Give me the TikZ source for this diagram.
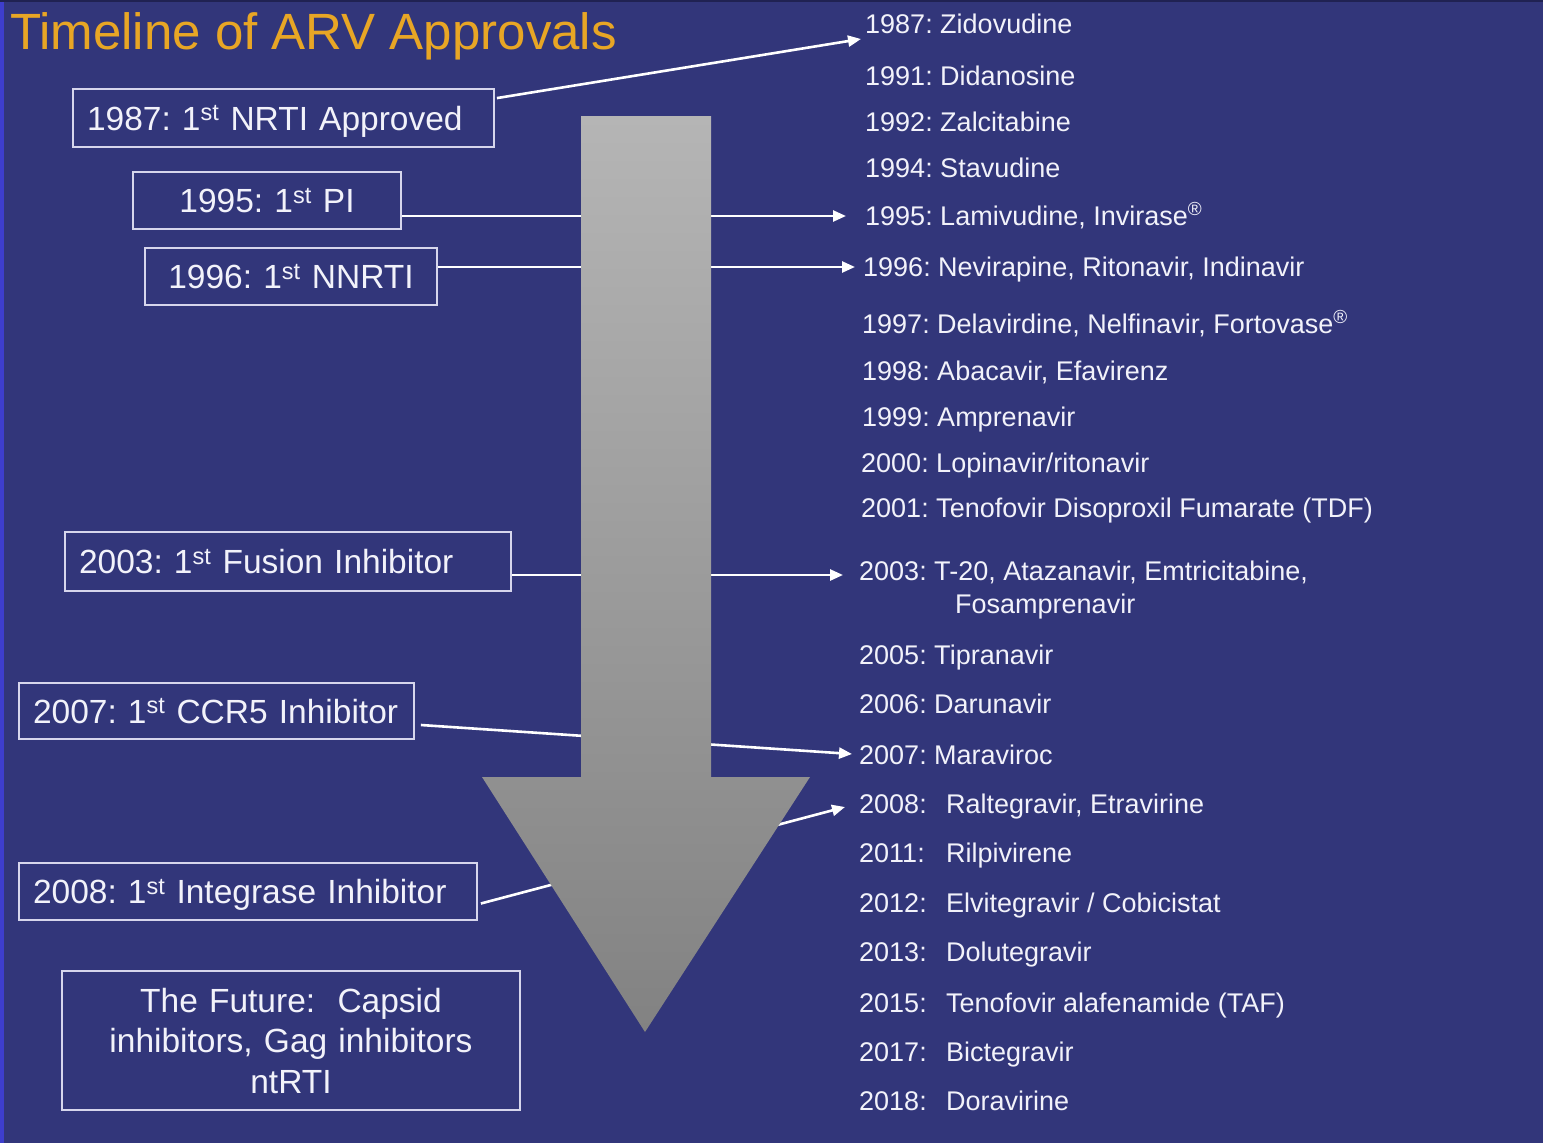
\documentclass[tikz,border=0pt]{standalone}
\usepackage{fontspec}
\setmainfont{Liberation Sans}
\usetikzlibrary{arrows.meta,calc}
\definecolor{bg}{RGB}{50,54,122}
\definecolor{edgeblue}{RGB}{62,62,205}
\definecolor{edgetop}{RGB}{32,34,82}
\definecolor{titlec}{RGB}{232,166,37}
\definecolor{txt}{RGB}{242,242,250}
\definecolor{boxc}{RGB}{214,214,236}
\definecolor{arrtop}{RGB}{181,181,181}
\definecolor{arrbot}{RGB}{130,130,130}
\frenchspacing
\begin{document}
\begin{tikzpicture}[x=1pt,y=-1pt,
  box/.style={draw=boxc, line width=1.8pt, text=txt, font=\fontsize{33.5}{40.5}\selectfont, inner xsep=14pt, inner ysep=0pt},
  oneline/.style={text height=24pt, text depth=0pt},
  item/.style={anchor=base west, text=txt, font=\fontsize{27}{32}\selectfont, inner sep=0pt},
  conn/.style={draw=white, line width=2.6pt, -{Triangle[length=13pt,width=11pt]}}
]
% background
\fill[bg] (0,0) rectangle (1543,1143);
\fill[edgeblue] (0,0) rectangle (4,1143);
\fill[edgetop] (0,0) rectangle (1543,2);
\useasboundingbox (0,0) rectangle (1543,1143);

% title
\node[anchor=base west, text=titlec, font=\fontsize{51}{60}\selectfont, inner sep=0pt] (title) at (10,49) {Timeline of ARV Approvals};

% left boxes
\node[box, oneline, text width=393pt, align=left, minimum height=58pt] (b1) at (283.5,118) {1987: 1\textsuperscript{st} NRTI Approved};
\node[box, oneline, text width=240pt, align=center, minimum height=57pt] (b2) at (267,200.5) {1995: 1\textsuperscript{st} PI};
\node[box, oneline, text width=264pt, align=center, minimum height=57pt] (b3) at (291,276.5) {1996: 1\textsuperscript{st} NNRTI};
\node[box, oneline, text width=418pt, align=left, minimum height=59pt] (b4) at (288,561.5) {2003: 1\textsuperscript{st} Fusion Inhibitor};
\node[box, oneline, text width=367pt, align=left, minimum height=56pt] (b5) at (216.5,711) {2007: 1\textsuperscript{st} CCR5 Inhibitor};
\node[box, oneline, text width=430pt, align=left, minimum height=57pt] (b6) at (248,891.5) {2008: 1\textsuperscript{st} Integrase Inhibitor};
\node[box, text width=430pt, align=center, minimum height=139pt] (b7) at (291,1040.5) {The Future:\ \ Capsid\\inhibitors, Gag inhibitors\\ntRTI};

% right list
\node[item] (r1) at (865,34) {1987: Zidovudine};
\node[item] (r2) at (865,85) {1991: Didanosine};
\node[item] (r3) at (865,131) {1992: Zalcitabine};
\node[item] (r4) at (865,177) {1994: Stavudine};
\node[item] (r5) at (865,225) {1995: Lamivudine, Invirase\textsuperscript{®}};
\node[item] (r6) at (863,276) {1996: Nevirapine, Ritonavir, Indinavir};
\node[item] (r7) at (862,333) {1997: Delavirdine, Nelfinavir, Fortovase\textsuperscript{®}};
\node[item] (r8) at (862,380) {1998: Abacavir, Efavirenz};
\node[item] (r9) at (862,426) {1999: Amprenavir};
\node[item] (r10) at (861,472) {2000: Lopinavir/ritonavir};
\node[item] (r11) at (861,517) {2001: Tenofovir Disoproxil Fumarate (TDF)};
\node[item] (r12) at (859,580) {2003: T-20, Atazanavir, Emtricitabine,};
\node[item] (r12b) at (955,613) {Fosamprenavir};
\node[item] (r13) at (859,664) {2005: Tipranavir};
\node[item] (r14) at (859,713) {2006: Darunavir};
\node[item] (r15) at (859,764) {2007: Maraviroc};
\node[item] (r16) at (859,813) {\makebox[87pt][l]{2008:}Raltegravir, Etravirine};
\node[item] (r17) at (859,862) {\makebox[87pt][l]{2011:}Rilpivirene};
\node[item] (r18) at (859,912) {\makebox[87pt][l]{2012:}Elvitegravir / Cobicistat};
\node[item] (r19) at (859,961) {\makebox[87pt][l]{2013:}Dolutegravir};
\node[item] (r20) at (859,1012) {\makebox[87pt][l]{2015:}Tenofovir alafenamide (TAF)};
\node[item] (r21) at (859,1061) {\makebox[87pt][l]{2017:}Bictegravir};
\node[item] (r22) at (859,1110) {\makebox[87pt][l]{2018:}Doravirine};

% connector ends
\coordinate (e1) at (861,39);
\coordinate (e2) at (846,216);
\coordinate (e3) at (855,267);
\coordinate (e4) at (843,575);
\coordinate (e5) at (852,754);
\coordinate (e6) at (845,807);

\draw[conn] ($(b1.north east)+(2,10)$) -- (e1);
\draw[conn] (b2.east |- e2) -- (e2);
\draw[conn] (b3.east |- e3) -- (e3);
\draw[conn] (b4.east |- e4) -- (e4);
\draw[conn] ($(b5.east)+(6,14)$) -- (e5);
\draw[conn] ($(b6.east)+(3,12)$) -- (e6);

% big downward arrow
\shade[top color=arrtop, bottom color=arrbot]
  (581,116) -- (711,116) -- (711,777) -- (810,777) -- (645,1032) -- (482,777) -- (581,777) -- cycle;
\end{tikzpicture}
\end{document}
